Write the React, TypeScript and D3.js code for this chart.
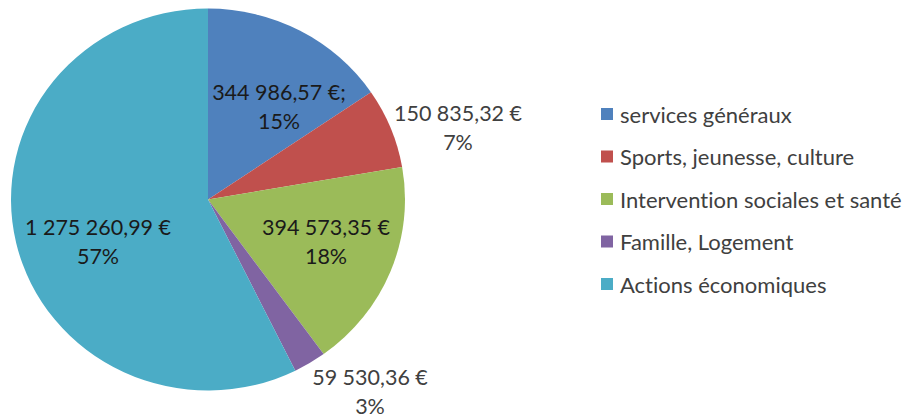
import React from "react";
import * as d3 from "d3";

const categories = [
  "services généraux",
  "Sports, jeunesse, culture",
  "Intervention sociales et santé",
  "Famille, Logement",
  "Actions économiques",
];
const values = [344986.57, 150835.32, 394573.35, 59530.36, 1275260.99];
const valueLabels = ["344 986,57 €;", "150 835,32 €", "394 573,35 €", "59 530,36 €", "1 275 260,99 €"];
const percentLabels = ["15%", "7%", "18%", "3%", "57%"];
const colors = ["#4F81BD", "#C0504D", "#9BBB59", "#8064A2", "#4BACC6"];

// layout: label block centres (first line), relative to page
const labelPos: [number, number][] = [
  [279, 92],
  [458, 113],
  [326, 227],
  [370, 377],
  [98, 227],
];
const labelInside = [true, false, true, false, true];

const W = 915;
const H = 420;
const cx = 208;
const cy = 199.5;
const rx = 197;
const ry = 191;
const FONT = "Lato, 'Open Sans', sans-serif";
const FS_LABEL = 21.5;
const FS_LEGEND = 22;

export default function App() {
  const pie = d3.pie<number>().sort(null).value((d) => d);
  const arcs = pie(values);
  const arcGen = d3.arc<d3.PieArcDatum<number>>().innerRadius(0).outerRadius(rx);
  const legendY = d3.scalePoint<number>().domain(d3.range(categories.length)).range([114, 284]);

  return (
    <svg width={W} height={H} style={{ position: "absolute", left: 0, top: 0, background: "#fff", fontVariantLigatures: "none" }}>
      <g transform={`translate(${cx},${cy}) scale(1,${ry / rx})`}>
        {arcs.map((a, i) => (
          <path key={i} d={arcGen(a) || ""} fill={colors[i]} />
        ))}
      </g>
      {arcs.map((a, i) => (
        <g key={"l" + i} fontFamily={FONT} fontSize={FS_LABEL} textAnchor="middle" fill={labelInside[i] ? "#1a1a1a" : "#404040"}>
          <text x={labelPos[i][0]} y={labelPos[i][1]} dominantBaseline="central">{valueLabels[i]}</text>
          <text x={labelPos[i][0]} y={labelPos[i][1] + 29} dominantBaseline="central">{percentLabels[i]}</text>
        </g>
      ))}
      {categories.map((c, i) => (
        <g key={"lg" + i} transform={`translate(601,${legendY(i)})`}>
          <rect x={0} y={-6} width={12} height={12} fill={colors[i]} />
          <text x={19} y={0} dominantBaseline="central" fontFamily={FONT} fontSize={FS_LEGEND} fill="#404040">{c}</text>
        </g>
      ))}
    </svg>
  );
}
